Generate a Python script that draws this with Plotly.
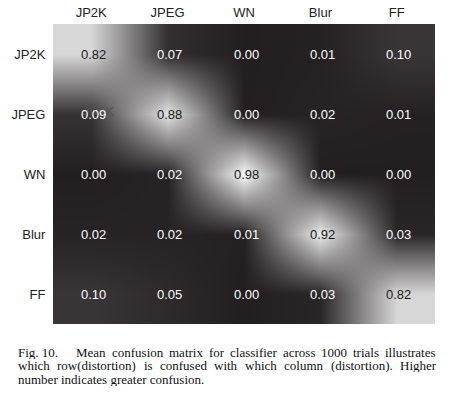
import plotly.graph_objects as go

# ---- data ----
labels = ["JP2K", "JPEG", "WN", "Blur", "FF"]
conf = [
    [0.82, 0.07, 0.00, 0.01, 0.10],
    [0.09, 0.88, 0.00, 0.02, 0.01],
    [0.00, 0.02, 0.98, 0.00, 0.00],
    [0.02, 0.02, 0.01, 0.92, 0.03],
    [0.10, 0.05, 0.00, 0.03, 0.82],
]
caption_lines = [
    ["Fig. 10.", "Mean", "confusion", "matrix", "for", "classifier", "across", "1000", "trials", "illustrates"],
    ["which", "row(distortion)", "is", "confused", "with", "which", "column", "(distortion).", "Higher"],
    ["number indicates greater confusion."],
]

W, H = 452, 396
L, R, T, B = 53, 17, 24, 72
PW, PH = W - L - R, H - T - B

idx = list(range(len(labels)))

fig = go.Figure()
fig.add_trace(go.Heatmap(
    z=conf, x=idx, y=idx,
    zsmooth="best",
    colorscale=[[0, "#231f20"], [1, "#ffffff"]],
    zmin=0, zmax=1, showscale=False, hoverinfo="skip",
))

annotations = []
# stray ghost label seen behind the 0.09 cell
annotations.append(dict(x=0, y=1, xref="x", yref="y", text="JP2K", showarrow=False,
                        xshift=7.5, yshift=3,
                        font=dict(family="Liberation Sans", size=13, color="#555555")))
for i, row in enumerate(conf):
    for j, v in enumerate(row):
        annotations.append(dict(
            x=j, y=i, xref="x", yref="y", text=f"{v:.2f}", showarrow=False,
            xshift=2,
            font=dict(family="Liberation Sans", size=13,
                      color="#1a1a1a" if v > 0.5 else "#ffffff"),
        ))

# ---- caption (justified, Times metrics) ----
TW = {' ': 250, '(': 333, ')': 333, '.': 250, 'F': 556, 'M': 889, 'H': 722,
      'a': 444, 'b': 500, 'c': 444, 'd': 500, 'e': 444, 'f': 333, 'g': 500, 'h': 500,
      'i': 278, 'j': 278, 'k': 500, 'l': 278, 'm': 778, 'n': 500, 'o': 500, 'p': 500,
      'q': 500, 'r': 333, 's': 389, 't': 278, 'u': 500, 'v': 500, 'w': 722, 'x': 500,
      'y': 500, 'z': 444}
FS = 13


def tw(s):
    return sum(TW.get(ch, 500) for ch in s) * FS / 1000


def px2paper(px, py):
    return (px - L) / PW, (H - B - py) / PH


left, right = 17, 435
line_y = [352, 365.5, 379]
for k, words in enumerate(caption_lines):
    widths = [tw(w) for w in words]
    extra = 12 if k == 0 else 0
    if len(words) > 1 and k < 2:
        g = (right - left - sum(widths) - extra) / (len(words) - 1)
    else:
        g = 0
    xpos = left
    for n, w in enumerate(words):
        xp, yp = px2paper(xpos, line_y[k])
        annotations.append(dict(x=xp, y=yp, xref="paper", yref="paper", text=w,
                                showarrow=False, xanchor="left", yanchor="middle",
                                borderpad=0, height=13,
                                font=dict(family="Liberation Serif", size=FS, color="#111")))
        xpos += widths[n] + g + (extra if n == 0 else 0)

fig.update_layout(
    width=W, height=H,
    margin=dict(l=L, r=R, t=T, b=B, pad=0, autoexpand=False),
    paper_bgcolor="white", plot_bgcolor="white",
    annotations=annotations,
    xaxis=dict(side="top", tickvals=idx, ticktext=labels, range=[-0.5, 4.5],
               showgrid=False, zeroline=False, showline=False, automargin=False,
               ticks="outside", ticklen=1, tickcolor="rgba(0,0,0,0)",
               tickfont=dict(family="Liberation Sans", size=13, color="#222")),
    yaxis=dict(tickvals=idx, ticktext=labels, range=[4.5, -0.5],
               showgrid=False, zeroline=False, showline=False, automargin=False,
               ticks="outside", ticklen=4, tickcolor="rgba(0,0,0,0)",
               tickfont=dict(family="Liberation Sans", size=13, color="#222")),
)

fig.write_html("out.html", config={"displayModeBar": False},
               post_script="document.body.style.margin='0';document.body.style.padding='0';")
